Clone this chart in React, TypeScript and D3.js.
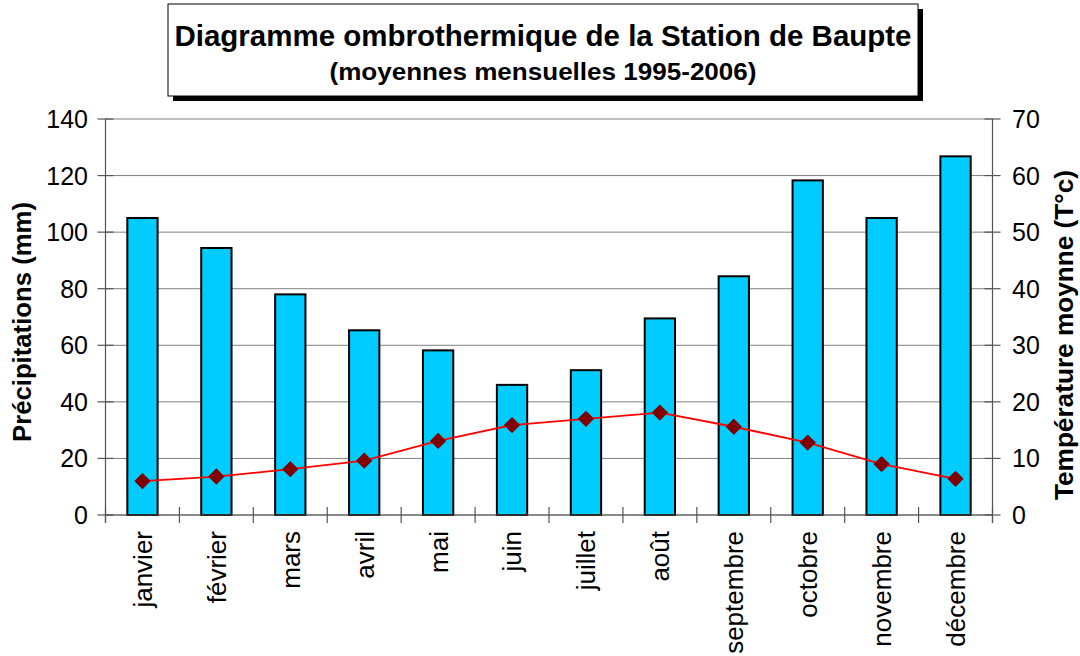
import React from 'react';
import * as d3 from 'd3';

const months = ['janvier', 'février', 'mars', 'avril', 'mai', 'juin', 'juillet', 'août', 'septembre', 'octobre', 'novembre', 'décembre'];
const precipitations = [105, 94.4, 78, 65.3, 58.2, 46, 51.2, 69.5, 84.4, 118.3, 105, 126.8];
const temperatures = [6.0, 6.8, 8.1, 9.6, 13.1, 15.9, 17.0, 18.1, 15.6, 12.8, 9.0, 6.4];
const precipTicks = [0, 20, 40, 60, 80, 100, 120, 140];
const tempTicks = [0, 10, 20, 30, 40, 50, 60, 70];

const W = 1080, H = 656;
const margin = {left: 105.5, right: 992.5, top: 119, bottom: 515};
const font = '"Liberation Sans", Arial, Helvetica, sans-serif';

export default function App() {
    const x = d3.scaleBand<string>()
        .domain(months)
        .range([margin.left, margin.right])
        .padding(0);
    const yP = d3.scaleLinear().domain([0, 140]).range([margin.bottom, margin.top]);
    const yT = d3.scaleLinear().domain([0, 70]).range([margin.bottom, margin.top]);

    const barW = x.bandwidth() * 0.41;
    const cx = (m: string) => (x(m) as number) + x.bandwidth() / 2;

    const line = d3.line<number>()
        .x((d, i) => cx(months[i]))
        .y(d => yT(d));

    const diamond = d3.symbol().type(d3.symbolDiamond2).size(170)();

    // category tick positions (band edges)
    const catTicks = months.map(m => x(m) as number).concat([margin.right]);

    return (
        <svg width={W} height={H} style={{position: 'absolute', left: 0, top: 0, background: '#fff'}}
            fontFamily={font}>
            {/* title box */}
            <rect x={173} y={9} width={750} height={92} fill='#000'/>
            <rect x={168} y={4} width={750} height={92} fill='#fff' stroke='#000' strokeWidth={1}/>
            <text x={543} y={46} textAnchor='middle' fontWeight='bold' fontSize={30}
                textLength={737} lengthAdjust='spacingAndGlyphs'>
                Diagramme ombrothermique de la Station de Baupte
            </text>
            <text x={543} y={80} textAnchor='middle' fontWeight='bold' fontSize={23}
                textLength={427} lengthAdjust='spacingAndGlyphs'>
                (moyennes mensuelles 1995-2006)
            </text>

            {/* gridlines */}
            {precipTicks.map(t => (
                <line key={'g' + t} x1={margin.left} x2={margin.right} y1={yP(t)} y2={yP(t)}
                    stroke='#808080' strokeWidth={1}/>
            ))}

            {/* left axis */}
            <line x1={margin.left} x2={margin.left} y1={margin.top} y2={margin.bottom + 8} stroke='#555' strokeWidth={1.2}/>
            {precipTicks.map(t => (
                <g key={'l' + t}>
                    <line x1={margin.left - 8} x2={margin.left + 8} y1={yP(t)} y2={yP(t)} stroke='#555' strokeWidth={1.2}/>
                    <text x={88} y={yP(t)} dy='0.36em' textAnchor='end' fontSize={25}>{t}</text>
                </g>
            ))}

            {/* right axis */}
            <line x1={margin.right} x2={margin.right} y1={margin.top} y2={margin.bottom + 8} stroke='#555' strokeWidth={1.2}/>
            {tempTicks.map(t => (
                <g key={'r' + t}>
                    <line x1={margin.right - 8} x2={margin.right + 8} y1={yT(t)} y2={yT(t)} stroke='#555' strokeWidth={1.2}/>
                    <text x={1012} y={yT(t)} dy='0.36em' textAnchor='start' fontSize={25}>{t}</text>
                </g>
            ))}

            {/* bars */}
            {months.map((m, i) => (
                <rect key={m} x={cx(m) - barW / 2} y={yP(precipitations[i])} width={barW}
                    height={yP(0) - yP(precipitations[i])}
                    fill='#00CCFF' stroke='#000' strokeWidth={2}/>
            ))}

            {/* bottom axis */}
            <line x1={margin.left} x2={margin.right} y1={margin.bottom} y2={margin.bottom} stroke='#555' strokeWidth={1.2}/>
            {catTicks.map((t, i) => (
                <line key={'c' + i} x1={t} x2={t} y1={margin.bottom - 8} y2={margin.bottom + 8} stroke='#555' strokeWidth={1.2}/>
            ))}
            {months.map(m => (
                <text key={'t' + m} transform={`translate(${cx(m)},531) rotate(-90)`}
                    dy='0.36em' textAnchor='end' fontSize={26}>{m}</text>
            ))}

            {/* temperature line */}
            <path d={line(temperatures) as string} fill='none' stroke='#FF0000' strokeWidth={1.8}/>
            {temperatures.map((t, i) => (
                <path key={'d' + i} d={diamond as string} transform={`translate(${cx(months[i])},${yT(t)})`}
                    fill='#800000'/>
            ))}

            {/* axis titles */}
            <text transform='translate(22,322) rotate(-90)' dy='0.36em' textAnchor='middle'
                fontWeight='bold' fontSize={25} textLength={240} lengthAdjust='spacingAndGlyphs'>Précipitations (mm)</text>
            <text transform='translate(1064,335) rotate(-90)' dy='0.36em' textAnchor='middle'
                fontWeight='bold' fontSize={25} textLength={330} lengthAdjust='spacingAndGlyphs'>Température moynne (T°c)</text>
        </svg>
    );
}
